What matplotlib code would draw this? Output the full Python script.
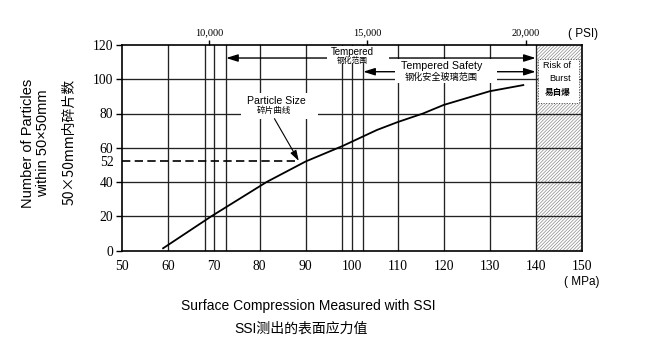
import matplotlib
matplotlib.use("Agg")
import matplotlib.pyplot as plt
from matplotlib.patches import Rectangle

# ---------------- data ----------------
mpa_ticks = [50, 60, 70, 80, 90, 100, 110, 120, 130, 140, 150]
count_ticks = [0, 20, 40, 60, 80, 100, 120]
marked_tick = 52
psi_values = [10000, 15000, 20000]
psi_labels = ["10,000", "15,000", "20,000"]

curve_mpa = [59.0, 69.5, 81.5, 90.0, 98.0, 105.5, 110.0, 115.5, 120.0, 130.0, 137.3]
curve_count = [1.3, 20.0, 40.0, 52.0, 61.0, 70.4, 75.0, 80.0, 85.0, 93.0, 96.6]

marked_mpa = 88.5          # end of the dashed 52 line / arrow tip
vgrid_mpa = [60, 68, 70, 72.7, 80, 90, 97.9, 100, 102.5, 110, 120, 130, 140]
hgrid_count = [20, 40, 60, 80, 100]

tempered_range = (72.7, 140.0)
tempered_level = 112.4
safety_range = (102.5, 140.0)
safety_level = 104.4
burst_range = (140.0, 150.0)

# ---------------- figure ----------------
SANS = ["Liberation Sans", "Noto Sans CJK SC", "DejaVu Sans"]
CJK = ["Noto Sans CJK SC", "Liberation Sans", "DejaVu Sans"]
SERIF = ["Liberation Serif", "DejaVu Serif"]

plt.rcParams["hatch.linewidth"] = 0.5
plt.rcParams["hatch.color"] = "#8a8a8a"

fig = plt.figure(figsize=(6.63, 3.58), dpi=100)
ax = fig.add_axes([121.7 / 663, 1 - 250.5 / 358, 460 / 663, 205.5 / 358])
ax.set_xlim(50, 150)
ax.set_ylim(0, 120)

grid_c = "#222222"
for v in vgrid_mpa:
    ax.plot([v, v], [0, 120], color=grid_c, lw=0.95, zorder=1)
for h in hgrid_count:
    ax.plot([50, 150], [h, h], color=grid_c, lw=0.95, zorder=1)

# risk of burst hatched band
ax.add_patch(Rectangle((burst_range[0], 0), burst_range[1] - burst_range[0], 120,
                       facecolor="white", edgecolor="#8a8a8a", hatch="//////////",
                       lw=0, zorder=0.5))

# curve
ax.plot(curve_mpa, curve_count, color="black", lw=1.3, zorder=2)
# dashed 52 line
ax.plot([50, marked_mpa], [marked_tick, marked_tick], color="black", lw=1.2,
        linestyle=(0, (5, 2.6)), zorder=2)

# range arrows
arrow_kw = dict(arrowstyle="-|>,head_length=0.7,head_width=0.22", color="black",
                lw=1.0, mutation_scale=10, shrinkA=0, shrinkB=0)
mid_t = 0.5 * (tempered_range[0] + tempered_range[1])
ax.annotate("", xy=(tempered_range[0], tempered_level), xytext=(mid_t, tempered_level),
            arrowprops=arrow_kw, zorder=2)
ax.annotate("", xy=(tempered_range[1], tempered_level), xytext=(mid_t, tempered_level),
            arrowprops=arrow_kw, zorder=2)
mid_s = 0.5 * (safety_range[0] + safety_range[1])
ax.annotate("", xy=(safety_range[0], safety_level), xytext=(mid_s, safety_level),
            arrowprops=arrow_kw, zorder=2)
ax.annotate("", xy=(safety_range[1], safety_level), xytext=(mid_s, safety_level),
            arrowprops=arrow_kw, zorder=2)

# white label boxes
def wbox(x0, x1, y0, y1, ec="none", lw=0, ls="-"):
    ax.add_patch(Rectangle((x0, y0), x1 - x0, y1 - y0, facecolor="white",
                           edgecolor=ec, lw=lw, linestyle=ls, zorder=2.1))

wbox(94.7, 108.2, 109.3, 119.6)
wbox(109.4, 131.6, 97.8, 111.6)
wbox(75.9, 92.7, 77.0, 92.0)
wbox(140.5, 149.5, 86.3, 111.6, ec="#444444", lw=0.7, ls=":")

# texts
ax.text(100.2, 116.2, "Tempered", fontsize=7.0, family=SANS, ha="center", va="center", zorder=3)
ax.text(100.2, 110.6, "钢化范围", fontsize=5.6, family=CJK, ha="center", va="center", zorder=3)
ax.text(119.6, 108.0, "Tempered Safety", fontsize=7.7, family=SANS, ha="center", va="center", zorder=3)
ax.text(119.5, 101.3, "钢化安全玻璃范围", fontsize=6.6, family=CJK, ha="center", va="center", zorder=3)
ax.text(83.7, 87.4, "Particle Size", fontsize=7.6, family=SANS, ha="center", va="center", zorder=3)
ax.text(83.2, 81.9, "碎片曲线", fontsize=6.2, family=CJK, ha="center", va="center", zorder=3)
ax.text(144.6, 107.8, "Risk of", fontsize=6.6, family=SANS, ha="center", va="center", zorder=3)
ax.text(145.2, 100.4, "Burst", fontsize=6.6, family=SANS, ha="center", va="center", zorder=3)
ax.text(144.8, 92.1, "易自爆", fontsize=6.2, family=CJK, fontweight="bold", ha="center", va="center", zorder=3)

# particle size arrow
ax.annotate("", xy=(marked_mpa, marked_tick + 0.3), xytext=(83.2, 77.0),
            arrowprops=dict(arrowstyle="-|>,head_length=0.7,head_width=0.22", color="black",
                            lw=0.8, mutation_scale=9, shrinkA=0, shrinkB=0), zorder=2.5)

# axes / ticks
for s in ax.spines.values():
    s.set_linewidth(1.2)
    s.set_color("black")
    s.set_zorder(2.5)

ax.set_xticks(mpa_ticks)
ax.set_xticklabels([str(t) for t in mpa_ticks], family=SERIF, fontsize=9.8)
ax.tick_params(axis="x", length=0, pad=7, colors="black")
ax.set_yticks(count_ticks)
ax.set_yticklabels([str(t) for t in count_ticks], family=SERIF, fontsize=9.8)
ax.set_yticks([marked_tick], minor=True)
ax.set_yticklabels([str(marked_tick)], minor=True, family=SERIF, fontsize=9.8)
ax.tick_params(axis="y", which="major", length=4.3, width=1.0, pad=2)
ax.tick_params(axis="y", which="minor", length=0, pad=5.3)
ax.xaxis.set_minor_locator(matplotlib.ticker.NullLocator())

# top PSI axis
top = ax.twiny()
top.set_xlim(ax.get_xlim())
top.set_xticks([p * 0.006894757 for p in psi_values])
top.set_xticklabels(psi_labels, family=SERIF, fontsize=7.5)
top.tick_params(axis="x", length=3.5, width=1.0, pad=2)
for s in top.spines.values():
    s.set_visible(False)

# unit labels
fig.text(583.3 / 663, 1 - 34 / 358, "( PSI)", fontsize=8.5, family=SANS, ha="center", va="center")
fig.text(581.5 / 663, 1 - 281.7 / 358, "( MPa)", fontsize=8.5, family=SANS, ha="center", va="center")

# axis titles
fig.text(308 / 663, 1 - 306 / 358, "Surface Compression Measured with SSI",
         fontsize=10, family=SANS, ha="center", va="center")
fig.text(301 / 663, 1 - 329 / 358, "SSI测出的表面应力值",
         fontsize=10, family=SANS, ha="center", va="center")
fig.text(35.5 / 663, 1 - 143.5 / 358, "Number of Particles\nwithin 50×50mm",
         fontsize=10.5, family=SANS, ha="center", va="center", rotation=90, linespacing=1.15)
fig.text(70 / 663, 1 - 142 / 358, "50×50mm内碎片数",
         fontsize=10, family=CJK, ha="center", va="center", rotation=90)

fig.savefig("out.png", dpi=100)
